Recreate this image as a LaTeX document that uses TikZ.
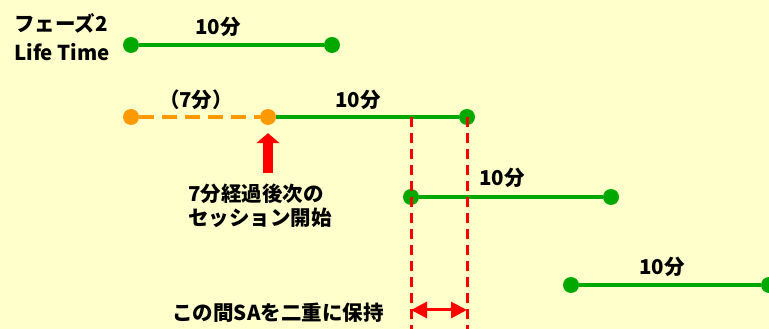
\documentclass[tikz,border=0pt]{standalone}
\usepackage{fontspec}
\setmainfont{Noto Sans CJK JP}[BoldFont={Noto Sans CJK JP Black}]
\usepackage{tikz}
\usetikzlibrary{arrows.meta}
\definecolor{bgyellow}{RGB}{255,255,204}
\definecolor{ltgreen}{RGB}{0,168,0}
\definecolor{ltorange}{RGB}{255,153,0}

\begin{document}
\begin{tikzpicture}[x=1pt,y=1pt,
    dot/.style={circle,fill=ltgreen,inner sep=0pt,minimum size=16pt},
    odot/.style={circle,fill=ltorange,inner sep=0pt,minimum size=16pt},
    life/.style={ltgreen,line width=3.5pt},
    lbl/.style={font=\fontsize{20.5}{24}\selectfont\bfseries,inner sep=0pt},
    guide/.style={red,line width=3pt,dash pattern=on 10pt off 6pt}]
        \fill[bgyellow] (0,0) rectangle (769,329);
        \clip (0,0) rectangle (769,329);
        % titles
        \node[lbl,anchor=west](t1)at(14,306){フェーズ2};
        \node[lbl,anchor=west](t2)at(14,277){Life Time};
        % phase 1
        \node[dot](a1)at(131,284){};
        \node[dot](a2)at(332,284){};
        \draw[life] (a1) -- (a2);
        \node[lbl](la)at(218,302){10分};
        % phase 2
        \node[odot](o1)at(131,212){};
        \node[odot](o2)at(268,212){};
        \node[dot](b2)at(467,212){};
        \draw[ltorange,line width=3.5pt,dash pattern=on 15pt off 8pt] (o1) -- (o2);
        \draw[life] (o2) -- (b2);
        \node[lbl](lo)at(196,229){（7分）};
        \node[lbl](lb)at(358,229){10分};
        % phase 3
        \node[dot](c1)at(411,132){};
        \node[dot](c2)at(611,132){};
        \draw[life] (c1) -- (c2);
        \node[lbl](lc)at(502,151){10分};
        % phase 4
        \node[dot](d1)at(571,44){};
        \node[dot](d2)at(769,44){};
        \draw[life] (d1) -- (d2);
        \node[lbl](ld)at(662,62){10分};
        % start of next session
        \coordinate (tail) at (268,156);
        \draw[red,line width=10pt,shorten >=8pt,-{Triangle[length=10pt,width=23pt]}] (tail) -- (o2);
        \node[lbl,anchor=west,align=left](note)at(188,123){7分経過後次の\\セッション開始};
        % overlap
        \coordinate (g1) at (411,212);
        \coordinate (g1b) at (411,0);
        \coordinate (g2b) at (467,0);
        \draw[guide] (g1) -- (g1b);
        \draw[guide] (b2.center) -- (g2b);
        \coordinate (m1) at (411,19);
        \coordinate (m2) at (467,19);
        \draw[red,line width=3pt,{Triangle[length=16pt,width=16pt]}-{Triangle[length=16pt,width=16pt]}] (m1) -- (m2);
        \node[lbl](ov)at(278,16){この間SAを二重に保持};
    \end{tikzpicture}
\end{document}
